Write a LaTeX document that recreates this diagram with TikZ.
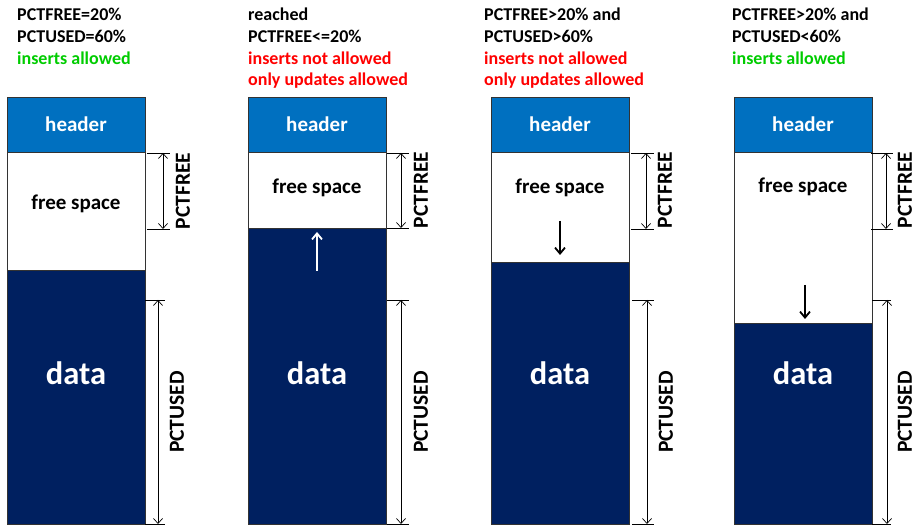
\documentclass[tikz,border=0pt]{standalone}
\usepackage{fontspec}
\setmainfont{Carlito}
\usetikzlibrary{arrows.meta}
\definecolor{hdrblue}{HTML}{0070C0}
\definecolor{datanavy}{HTML}{002060}
\definecolor{okgreen}{HTML}{00CC00}
\definecolor{nored}{HTML}{FF0000}
\begin{document}
\begin{tikzpicture}[x=1pt,y=-1pt,
  part/.style={draw=black!80, line width=0.8pt, minimum width=138pt, inner sep=0pt, anchor=north west, outer sep=0pt},
  hdr/.style={part, fill=hdrblue, minimum height=55pt},
  freepart/.style={part, fill=white},
  datapart/.style={part, fill=datanavy},
  hdrtxt/.style={text=white, font=\bfseries\fontsize{21}{24}\selectfont},
  freetxt/.style={text=black, font=\bfseries\fontsize{21}{24}\selectfont},
  datatxt/.style={text=white, font=\bfseries\fontsize{32.5}{36}\selectfont},
  cond/.style={anchor=base west, inner sep=0pt, font=\bfseries\fontsize{18}{20}\selectfont},
  dimlbl/.style={rotate=90, font=\bfseries\fontsize{21.5}{24}\selectfont},
  tick/.style={line width=0.7pt, draw=black},
  dim/.style={line width=0.7pt, {Straight Barb[length=5pt,width=9pt]}-{Straight Barb[length=5pt,width=9pt]}},
  move/.style={line width=1.8pt, -{Straight Barb[length=6pt,width=10pt]}}
]
\useasboundingbox (0,0) rectangle (914,526);

% ---------- block 1 ----------
\node[cond] (c1a) at (17,21) {PCTFREE=20\%};
\node[cond] (c1b) at (17,43) {PCTUSED=60\%};
\node[cond, text=okgreen] (c1c) at (17,64.5) {inserts allowed};
\node[hdr] (h1) at (7,97) {};
\node[hdrtxt] at (h1.center) {header};
\node[freepart, minimum height=118pt] (f1) at (7,152) {};
\node[datapart, minimum height=254pt] (d1) at (7,270) {};
\node[freetxt] (ft1) at (76,204) {free space};
\node[datatxt] (dt1) at (76,373) {data};
\coordinate (a1t) at (147,153); \coordinate (a1tt) at (170,153);
\coordinate (a1b) at (147,229); \coordinate (a1bb) at (170,229);
\draw[tick] (a1t) -- (a1tt); \draw[tick] (a1b) -- (a1bb);
\coordinate (a1u) at (163,153); \coordinate (a1l) at (163,229);
\draw[dim] (a1u) -- (a1l);
\node[dimlbl] (l1a) at (183,191) {PCTFREE};
\coordinate (u1t) at (145,300); \coordinate (u1tt) at (165,300);
\coordinate (u1b) at (145,524); \coordinate (u1bb) at (165,524);
\draw[tick] (u1t) -- (u1tt); \draw[tick] (u1b) -- (u1bb);
\coordinate (u1u) at (158,300); \coordinate (u1l) at (158,524);
\draw[dim] (u1u) -- (u1l);
\node[dimlbl] (l1b) at (177,412) {PCTUSED};

% ---------- block 2 ----------
\node[cond] (c2a) at (248,21) {reached};
\node[cond] (c2b) at (248,43) {PCTFREE<=20\%};
\node[cond, text=nored] (c2c) at (248,64.5) {inserts not allowed};
\node[cond, text=nored] (c2d) at (248,86) {only updates allowed};
\node[hdr] (h2) at (248,97) {};
\node[hdrtxt] at (h2.center) {header};
\node[freepart, minimum height=76pt] (f2) at (248,152) {};
\node[datapart, minimum height=296pt] (d2) at (248,228) {};
\node[freetxt] (ft2) at (317,188) {free space};
\node[datatxt] (dt2) at (317,373) {data};
\coordinate (m2s) at (317,271); \coordinate (m2e) at (317,232);
\draw[move, white] (m2s) -- (m2e);
\coordinate (a2t) at (387,153); \coordinate (a2tt) at (409,153);
\coordinate (a2b) at (387,228); \coordinate (a2bb) at (409,228);
\draw[tick] (a2t) -- (a2tt); \draw[tick] (a2b) -- (a2bb);
\coordinate (a2u) at (401,153); \coordinate (a2l) at (401,228);
\draw[dim] (a2u) -- (a2l);
\node[dimlbl] (l2a) at (421,190) {PCTFREE};
\coordinate (u2t) at (387,300); \coordinate (u2tt) at (409,300);
\coordinate (u2b) at (387,524); \coordinate (u2bb) at (409,524);
\draw[tick] (u2t) -- (u2tt); \draw[tick] (u2b) -- (u2bb);
\coordinate (u2u) at (401,300); \coordinate (u2l) at (401,524);
\draw[dim] (u2u) -- (u2l);
\node[dimlbl] (l2b) at (421,412) {PCTUSED};

% ---------- block 3 ----------
\node[cond] (c3a) at (484,21) {PCTFREE>20\% and};
\node[cond] (c3b) at (484,43) {PCTUSED>60\%};
\node[cond, text=nored] (c3c) at (484,64.5) {inserts not allowed};
\node[cond, text=nored] (c3d) at (484,86) {only updates allowed};
\node[hdr] (h3) at (491,97) {};
\node[hdrtxt] at (h3.center) {header};
\node[freepart, minimum height=110pt] (f3) at (491,152) {};
\node[datapart, minimum height=262pt] (d3) at (491,262) {};
\node[freetxt] (ft3) at (560,188) {free space};
\node[datatxt] (dt3) at (560,373) {data};
\coordinate (m3s) at (560,221); \coordinate (m3e) at (560,255);
\draw[move, black] (m3s) -- (m3e);
\coordinate (a3t) at (631,153); \coordinate (a3tt) at (654,153);
\coordinate (a3b) at (631,229); \coordinate (a3bb) at (654,229);
\draw[tick] (a3t) -- (a3tt); \draw[tick] (a3b) -- (a3bb);
\coordinate (a3u) at (646,153); \coordinate (a3l) at (646,229);
\draw[dim] (a3u) -- (a3l);
\node[dimlbl] (l3a) at (665,190) {PCTFREE};
\coordinate (u3t) at (632,300); \coordinate (u3tt) at (654,300);
\coordinate (u3b) at (632,524); \coordinate (u3bb) at (654,524);
\draw[tick] (u3t) -- (u3tt); \draw[tick] (u3b) -- (u3bb);
\coordinate (u3u) at (647,300); \coordinate (u3l) at (647,524);
\draw[dim] (u3u) -- (u3l);
\node[dimlbl] (l3b) at (666,412) {PCTUSED};

% ---------- block 4 ----------
\node[cond] (c4a) at (732,21) {PCTFREE>20\% and};
\node[cond] (c4b) at (732,43) {PCTUSED<60\%};
\node[cond, text=okgreen] (c4c) at (732,64.5) {inserts allowed};
\node[hdr] (h4) at (734,97) {};
\node[hdrtxt] at (h4.center) {header};
\node[freepart, minimum height=171pt] (f4) at (734,152) {};
\node[datapart, minimum height=201pt] (d4) at (734,323) {};
\node[freetxt] (ft4) at (803,187) {free space};
\node[datatxt] (dt4) at (803,373) {data};
\coordinate (m4s) at (805,285); \coordinate (m4e) at (805,319);
\draw[move, black] (m4s) -- (m4e);
\coordinate (a4t) at (871,153); \coordinate (a4tt) at (893,153);
\coordinate (a4b) at (871,229); \coordinate (a4bb) at (893,229);
\draw[tick] (a4t) -- (a4tt); \draw[tick] (a4b) -- (a4bb);
\coordinate (a4u) at (886,153); \coordinate (a4l) at (886,229);
\draw[dim] (a4u) -- (a4l);
\node[dimlbl] (l4a) at (905,190) {PCTFREE};
\coordinate (u4t) at (872,300); \coordinate (u4tt) at (891,300);
\coordinate (u4b) at (872,524); \coordinate (u4bb) at (891,524);
\draw[tick] (u4t) -- (u4tt); \draw[tick] (u4b) -- (u4bb);
\coordinate (u4u) at (887,300); \coordinate (u4l) at (887,524);
\draw[dim] (u4u) -- (u4l);
\node[dimlbl] (l4b) at (905,412) {PCTUSED};
\end{tikzpicture}
\end{document}
